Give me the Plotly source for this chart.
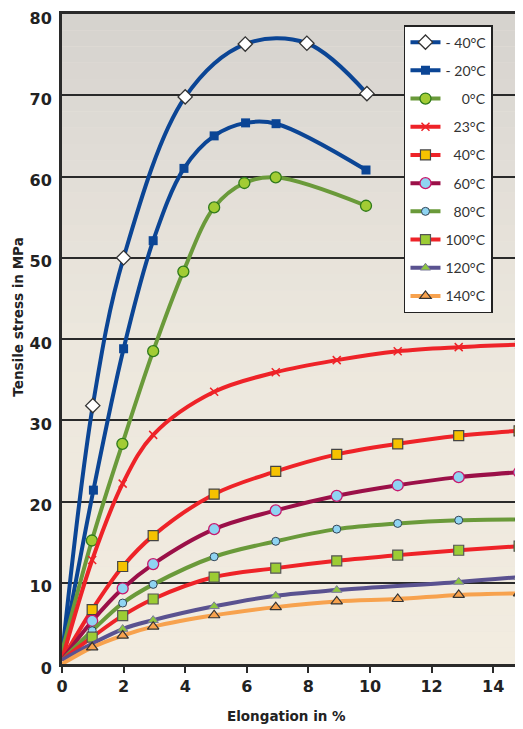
import plotly.graph_objects as go

# ---------------- data ----------------
x_m40 = [0, 1.0, 2.0, 4.0, 5.95, 7.95, 9.9]
y_m40 = [1.0, 31.8, 50.0, 69.8, 76.3, 76.4, 70.2]

x_m20 = [0, 1.02, 2.0, 2.96, 3.96, 4.94, 5.96, 6.95, 9.87]
y_m20 = [1.0, 21.4, 38.8, 52.1, 61.0, 65.0, 66.6, 66.5, 60.8]

x_0 = [0, 0.97, 1.96, 2.96, 3.94, 4.94, 5.92, 6.94, 9.87]
y_0 = [1.5, 15.2, 27.1, 38.5, 48.3, 56.2, 59.2, 59.9, 56.4]

x_low = [0, 0.98, 1.97, 2.96, 4.94, 6.94, 8.92, 10.9, 12.88, 14.84]
y_23 = [0.5, 12.8, 22.2, 28.2, 33.5, 35.9, 37.4, 38.5, 39.0, 39.3]
y_40 = [0.5, 6.7, 12.0, 15.8, 20.9, 23.7, 25.8, 27.1, 28.1, 28.7]
y_60 = [0.5, 5.3, 9.3, 12.3, 16.6, 18.9, 20.7, 22.0, 23.0, 23.6]
y_80 = [0.5, 4.1, 7.5, 9.8, 13.2, 15.1, 16.6, 17.3, 17.7, 17.8]
y_100 = [0.5, 3.3, 5.95, 8.0, 10.7, 11.8, 12.7, 13.4, 14.0, 14.5]

x_120 = [0, 1.97, 2.96, 4.94, 6.94, 8.92, 12.88, 14.84]
y_120 = [0.5, 4.3, 5.4, 7.1, 8.4, 9.1, 10.1, 10.7]

y_140 = [0.0, 2.05, 3.5, 4.6, 6.0, 7.0, 7.7, 8.0, 8.5, 8.7]

x_ticks = [0, 2, 4, 6, 8, 10, 12, 14]
y_ticks = [0, 10, 20, 30, 40, 50, 60, 70, 80]

FS = "\u2007"  # figure space for right-aligned legend text
series = [
    ("-" + " 40°C", x_m40, y_m40, "#0b4595", dict(symbol="diamond", size=11, color="white", line=dict(color="#333333", width=1.3))),
    ("-" + " 20°C", x_m20, y_m20, "#0b4595", dict(symbol="square", size=9, color="#0b4595", line=dict(color="#0b4595", width=0))),
    (FS * 2 + "0°C", x_0, y_0, "#6a9a3a", dict(symbol="circle", size=11, color="#a2cc34", line=dict(color="#2f7a1c", width=1.3))),
    (FS + "23°C", x_low, y_23, "#ee2328", dict(symbol="x-thin", size=8, color="#ee2328", line=dict(color="#ee2328", width=1.5))),
    (FS + "40°C", x_low, y_40, "#ee2328", dict(symbol="square", size=10, color="#f6c200", line=dict(color="#444444", width=1.2))),
    (FS + "60°C", x_low, y_60, "#9b1048", dict(symbol="circle", size=11, color="#8fd4f2", line=dict(color="#c8186c", width=1.3))),
    (FS + "80°C", x_low, y_80, "#6a9a3a", dict(symbol="circle", size=8, color="#8fd4f2", line=dict(color="#334455", width=1))),
    ("100°C", x_low, y_100, "#ee2328", dict(symbol="square", size=10, color="#9ccc34", line=dict(color="#555555", width=1.2))),
    ("120°C", x_120, y_120, "#5a5290", dict(symbol="triangle-up", size=9, color="#8dc63f", line=dict(color="#7a7a9a", width=1))),
    ("140°C", x_low, y_140, "#f7a24e", dict(symbol="triangle-up", size=10, color="#f7a24e", line=dict(color="#333333", width=1.2))),
]

fig = go.Figure()
for i, (name, xs, ys, lc, mk) in enumerate(series):
    fig.add_trace(go.Scatter(
        x=xs, y=ys, name=name, mode="lines+markers",
        line=dict(color=lc, width=4, shape="spline", smoothing=1.0),
        marker=mk,
        selectedpoints=list(range(1, len(xs))),
        selected=dict(marker=dict(opacity=1)),
        unselected=dict(marker=dict(opacity=0)),
        legendgroup="g%d" % i,
        cliponaxis=False,
        hoverinfo="skip",
    ))

# background gradient (grey at top, beige at bottom)
stops = [(0, (242, 236, 224)), (40, (236, 231, 221)), (60, (226, 222, 215)), (80, (213, 210, 206))]

def col_at(v):
    for (a, ca), (b, cb) in zip(stops[:-1], stops[1:]):
        if a <= v <= b:
            t = (v - a) / (b - a)
            return "rgb(%d,%d,%d)" % tuple(round(ca[k] + (cb[k] - ca[k]) * t) for k in range(3))
    return "rgb(%d,%d,%d)" % stops[-1][1]

shapes = []
n = 40
for k in range(n):
    y0 = 80 * k / n
    y1 = 80 * (k + 1) / n
    shapes.append(dict(type="rect", xref="paper", yref="y", x0=0, x1=1, y0=y0, y1=y1,
                       fillcolor=col_at((y0 + y1) / 2), line=dict(width=0), layer="below"))

BOLD = "'DejaVu Sans', sans-serif"
tick_font = dict(family=BOLD, size=16, color="#222222", weight="bold")
title_font = dict(family=BOLD, size=13.5, color="#222222", weight="bold")

# the page body has an 8px margin, so the figure is placed at (8, 8)
fig.update_layout(
    width=515, height=721,
    margin=dict(l=54, r=3, t=6, b=65, autoexpand=False),
    paper_bgcolor="white", plot_bgcolor="#ece7dd",
    shapes=shapes,
    showlegend=True,
    legend=dict(
        x=0.941, xanchor="right", y=0.983, yanchor="top",
        bgcolor="white", bordercolor="#222222", borderwidth=1.5,
        font=dict(family="Lato, 'DejaVu Sans', sans-serif", size=14, color="#333333"),
        tracegroupgap=7,
    ),
    xaxis=dict(
        range=[0, 14.87], tickvals=x_ticks, ticktext=[str(v) for v in x_ticks],
        showgrid=False, zeroline=False, automargin=False,
        showline=True, mirror=True, linecolor="#2a2a2a", linewidth=3,
        ticks="outside", ticklen=6, tickwidth=2, tickcolor="#2a2a2a",
        tickfont=tick_font, ticklabeloverflow="allow",
    ),
    yaxis=dict(
        range=[0, 80], tickvals=y_ticks, ticktext=[str(v) for v in y_ticks],
        showgrid=True, gridcolor="#2a2a2a", gridwidth=1.5, zeroline=False, automargin=False,
        showline=True, mirror=True, linecolor="#2a2a2a", linewidth=3,
        ticks="", tickfont=tick_font, ticklabelstandoff=4, ticklabeloverflow="allow",
        ticklabelshift=4,
    ),
    annotations=[
        dict(text="Elongation in %", xref="paper", yref="paper", x=0.491, y=-0.08,
             xanchor="center", yanchor="middle", showarrow=False, font=title_font),
        dict(text="Tensile stress in MPa", xref="paper", yref="paper", x=-0.098, y=0.533,
             xanchor="center", yanchor="middle", showarrow=False, textangle=-90, font=title_font),
    ],
)

fig.write_html("out.html")
